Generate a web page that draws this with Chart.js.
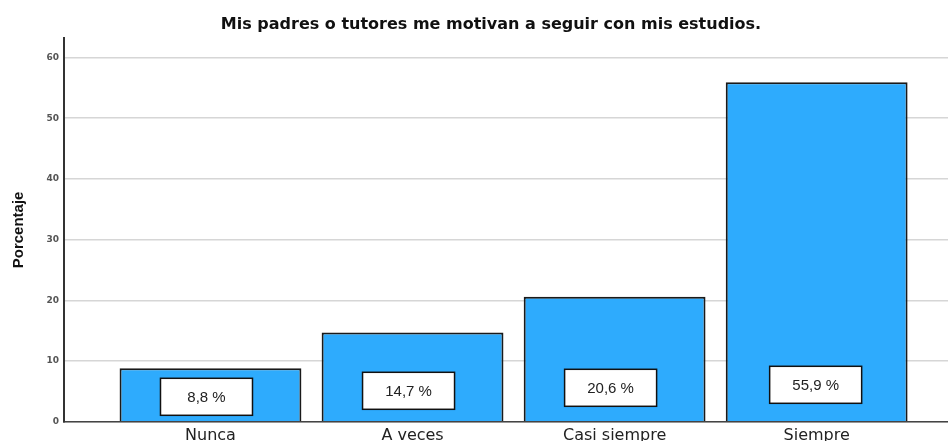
<!DOCTYPE html>
<html>
<head>
<meta charset="utf-8">
<script src="https://cdn.jsdelivr.net/npm/chart.js@4"></script>
<style>
  html, body { margin: 0; padding: 0; background: #fff; overflow: hidden; }
  #wrap { width: 948px; height: 449px; position: relative; }
</style>
</head>
<body>
<div id="wrap"><canvas id="chart"></canvas></div>
<script>
// datos de la gráfica
const chartTitle = "Mis padres o tutores me motivan a seguir con mis estudios.";
const categories = ["Nunca", "A veces", "Casi siempre", "Siempre"];
const percentages = [8.8, 14.7, 20.6, 55.9];
const valueLabels = ["8,8 %", "14,7 %", "20,6 %", "55,9 %"];
const yTicks = [0, 10, 20, 30, 40, 50, 60];

// posiciones x de cada categoria (1..4) sobre un eje lineal
const points = categories.map((c, i) => ({ x: i + 1, y: percentages[i] }));

// titulo dibujado a mano (un poco a la derecha del centro, como en el original)
const titlePlugin = {
  id: 'titlePlugin',
  afterDraw(chart) {
    const ctx = chart.ctx;
    ctx.save();
    ctx.fillStyle = '#111';
    ctx.font = 'bold 16px "DejaVu Sans", sans-serif';
    ctx.textAlign = 'center';
    ctx.textBaseline = 'alphabetic';
    ctx.fillText(chartTitle, 491, 29);
    ctx.restore();
  }
};

// cajas blancas con el porcentaje
const boxLift = [25, 31, 34, 37];
const boxLabels = {
  id: 'boxLabels',
  afterDatasetsDraw(chart) {
    const ctx = chart.ctx;
    const meta = chart.getDatasetMeta(0);
    const base = chart.scales.y.getPixelForValue(0);
    ctx.save();
    meta.data.forEach((bar, i) => {
      const w = 92, h = 37;
      const cx = bar.x - (i === 3 ? 1 : 4);
      const cy = base - boxLift[i];
      ctx.fillStyle = '#fff';
      ctx.fillRect(cx - w / 2, cy - h / 2, w, h);
      ctx.strokeStyle = '#111';
      ctx.lineWidth = 1.5;
      ctx.strokeRect(cx - w / 2, cy - h / 2, w, h);
      ctx.fillStyle = '#222';
      ctx.font = '15px "Liberation Sans", Arial, sans-serif';
      ctx.textAlign = 'center';
      ctx.textBaseline = 'middle';
      ctx.fillText(valueLabels[i], cx, cy + 1);
    });
    ctx.restore();
  }
};

new Chart(document.getElementById('chart'), {
  type: 'bar',
  data: {
    datasets: [{
      data: points,
      backgroundColor: '#2eabfd',
      borderColor: '#1a1a1a',
      borderWidth: 2,
      barPercentage: 0.9,
      categoryPercentage: 1.0
    }]
  },
  options: {
    responsive: true,
    maintainAspectRatio: false,
    animation: false,
    layout: { padding: { top: 38, left: 0, right: 0, bottom: 0 } },
    plugins: {
      legend: { display: false },
      tooltip: { enabled: false },
      title: { display: false }
    },
    scales: {
      x: {
        type: 'linear',
        offset: false,
        min: 0.275,
        max: 4.65,
        afterBuildTicks: (scale) => { scale.ticks = categories.map((c, i) => ({ value: i + 1 })); },
        ticks: {
          callback: (v) => categories[v - 1],
          color: '#222',
          font: { family: '"DejaVu Sans", sans-serif', size: 16 },
          padding: 4,
          maxRotation: 0,
          autoSkip: false
        },
        grid: { display: false, drawTicks: false },
        border: { display: true, color: '#444', width: 1.5 }
      },
      y: {
        min: 0,
        max: 63.2,
        afterBuildTicks: (scale) => { scale.ticks = yTicks.map(v => ({ value: v })); },
        afterFit: (scale) => { scale.width = 64; },
        ticks: {
          color: '#555',
          font: { family: '"DejaVu Sans", sans-serif', size: 9, weight: 'bold' },
          padding: 5
        },
        grid: { color: '#d6d6d6', lineWidth: 1.5, drawTicks: false },
        border: { display: true, color: '#333', width: 2 },
        title: {
          display: true,
          text: 'Porcentaje',
          color: '#111',
          font: { family: '"Liberation Sans", Arial, sans-serif', size: 15, weight: 'bold' },
          padding: { top: 10, bottom: 0 }
        }
      }
    }
  },
  plugins: [boxLabels, titlePlugin]
});
</script>
</body>
</html>
